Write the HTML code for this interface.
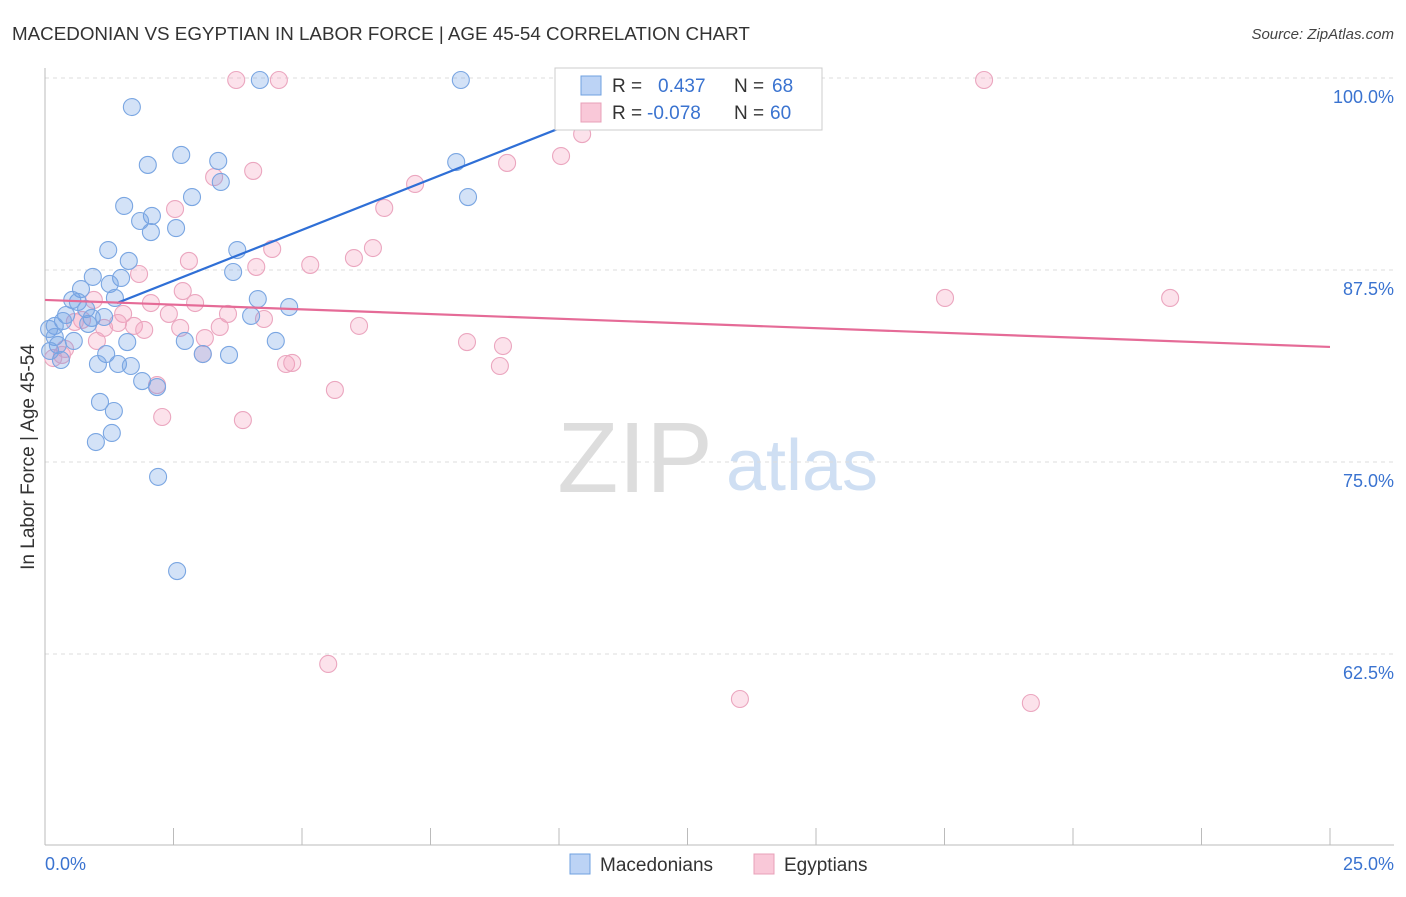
<!DOCTYPE html>
<html><head><meta charset="utf-8"><style>
body{margin:0;background:#fff;font-family:"Liberation Sans",sans-serif}
svg text{font-family:"Liberation Sans",sans-serif}
</style></head><body>
<svg id="chart" width="1406" height="892" viewBox="0 0 1406 892" xmlns="http://www.w3.org/2000/svg">
<text x="12" y="40" font-size="18.8" fill="#333">MACEDONIAN VS EGYPTIAN IN LABOR FORCE | AGE 45-54 CORRELATION CHART</text>
<text x="1394" y="39" font-size="15" fill="#444" font-style="italic" text-anchor="end">Source: ZipAtlas.com</text>
<g>
<text x="635" y="492" font-size="100" fill="#ddd" font-family="Liberation Serif" text-anchor="middle">ZIP</text>
<text x="802" y="490" font-size="72" fill="#cfdff3" text-anchor="middle">atlas</text>
</g>
<g id="grid"></g>
<g id="axes"></g>
<text transform="translate(34,457) rotate(-90)" font-size="19" fill="#333" text-anchor="middle">In Labor Force | Age 45-54</text>
<g id="pts"></g>
<g id="trends"></g>
<g>
<rect x="555" y="68" width="267" height="62" fill="#fff" stroke="#ccc"/>
<rect x="581" y="76" width="20" height="19" fill="#bcd3f5" stroke="#6fa0e0"/>
<rect x="581" y="103" width="20" height="19" fill="#f9c8d8" stroke="#e8a0b8"/>
<text x="612" y="92" font-size="19" fill="#333">R = <tspan x="658" fill="#3a73d0">0.437</tspan><tspan x="734">N = </tspan><tspan x="772" fill="#3a73d0">68</tspan></text>
<text x="612" y="119" font-size="19" fill="#333">R = <tspan x="647" fill="#3a73d0">-0.078</tspan><tspan x="734">N = </tspan><tspan x="770" fill="#3a73d0">60</tspan></text>
</g>
<g>
<rect x="570" y="854" width="20" height="20" fill="#bcd3f5" stroke="#6fa0e0"/>
<text x="600" y="871" font-size="19" fill="#333">Macedonians</text>
<rect x="754" y="854" width="20" height="20" fill="#f9c8d8" stroke="#e8a0b8"/>
<text x="784" y="871" font-size="19" fill="#333">Egyptians</text>
</g>
</svg>
<script>
const xTicks=[0,2.5,5,7.5,10,12.5,15,17.5,20,22.5,25];
const yTicks=[62.5,75,87.5,100];
const yTickLabels=["62.5%","75.0%","87.5%","100.0%"];
const blueX=[1.69,2.00,2.65,3.37,3.42,2.86,1.54,2.08,1.85,2.06,2.55,3.74,1.23,1.63,0.93,1.48,1.26,0.70,3.66,4.14,4.75,1.36,0.53,0.64,0.80,0.41,0.91,0.35,1.15,0.84,0.19,0.08,0.19,0.56,1.60,2.72,4.49,4.01,0.25,1.19,3.07,3.58,1.03,1.42,1.67,0.31,0.10,1.89,2.18,1.07,1.34,1.30,0.99,2.20,2.57,4.18,8.09,8.00,8.23];
const blueY=[98.11,94.34,94.99,94.60,93.23,92.25,91.67,91.02,90.69,89.97,90.23,88.80,88.80,88.09,87.05,86.98,86.59,86.26,87.37,85.61,85.09,85.68,85.55,85.42,84.96,84.57,84.38,84.18,84.44,83.99,83.86,83.66,83.14,82.88,82.81,82.88,82.88,84.51,82.62,82.03,82.03,81.97,81.38,81.38,81.25,81.64,82.23,80.27,79.88,78.91,78.32,76.89,76.30,74.03,67.90,99.87,99.87,94.53,92.25];
const pinkX=[3.72,4.55,18.27,10.45,10.04,8.99,4.05,3.29,7.20,6.60,2.53,2.80,4.11,6.38,4.42,5.16,6.01,1.83,2.68,2.92,0.95,2.06,1.52,2.41,3.56,4.26,0.72,1.73,1.15,1.42,1.93,2.63,3.40,6.11,3.11,1.01,8.21,8.91,0.39,0.33,3.07,4.69,4.81,8.85,2.18,5.64,2.28,3.85,17.51,21.89,5.51,13.52,19.18,0.58,0.16];
const pinkY=[99.87,99.87,99.87,96.35,94.92,94.47,93.95,93.55,93.10,91.54,91.47,88.09,87.70,88.93,88.87,87.83,88.28,87.24,86.13,85.35,85.55,85.35,84.64,84.64,84.64,84.31,84.25,83.86,83.73,84.05,83.60,83.73,83.79,83.86,83.07,82.88,82.81,82.55,82.36,81.97,82.03,81.38,81.45,81.25,80.01,79.69,77.93,77.73,85.68,85.68,61.85,59.57,59.31,84.12,81.77];
const blueTrend=[[1.4,85.35],[10.02,96.74]];
const pinkTrend=[[0,85.55],[25,82.49]];
const NS="http://www.w3.org/2000/svg";
const X=v=>45+v/25*1285;
const Y=v=>78+(100-v)/12.5*192;
function mk(tag,attrs,parent){const e=document.createElementNS(NS,tag);for(const k in attrs)e.setAttribute(k,attrs[k]);parent.appendChild(e);return e;}
const grid=document.getElementById('grid'),axes=document.getElementById('axes'),pts=document.getElementById('pts'),tr=document.getElementById('trends');
yTicks.forEach((t,i)=>{
 const l=mk('line',{x1:45,x2:1394,y1:Y(t),y2:Y(t),stroke:'#ddd','stroke-dasharray':'4,4'},grid);
 
 
 const tx=mk('text',{x:1394,y:Y(t)+25,'font-size':18,fill:'#3a73d0','text-anchor':'end'},axes);
 tx.textContent=yTickLabels[i];
 
 
});
mk('line',{x1:45,x2:45,y1:68,y2:845,stroke:'#bbb'},axes);
mk('line',{x1:45,x2:1394,y1:845,y2:845,stroke:'#bbb'},axes);
xTicks.forEach(t=>{
 const l=mk('line',{x1:X(t),x2:X(t),y1:828,y2:845,stroke:'#bbb'},axes);
 
 
});
const x0=mk('text',{x:45,y:870,'font-size':18,fill:'#3a73d0'},axes);x0.textContent='0.0%';


const x1=mk('text',{x:1394,y:870,'font-size':18,fill:'#3a73d0','text-anchor':'end'},axes);x1.textContent='25.0%';


pinkX.forEach((v,i)=>{
 const c=mk('circle',{cx:X(v),cy:Y(pinkY[i]),r:8.5,fill:'rgba(244,160,190,0.3)',stroke:'#eba6bf','stroke-width':1.1},pts);
 
 
});
blueX.forEach((v,i)=>{
 const c=mk('circle',{cx:X(v),cy:Y(blueY[i]),r:8.5,fill:'rgba(110,160,230,0.3)',stroke:'#7aa6e2','stroke-width':1.1},pts);
 
 
});
const bl=mk('line',{x1:X(blueTrend[0][0]),y1:Y(blueTrend[0][1]),x2:X(blueTrend[1][0]),y2:Y(blueTrend[1][1]),stroke:'#2f6fd6','stroke-width':2.2},tr);


const pl=mk('line',{x1:X(pinkTrend[0][0]),y1:Y(pinkTrend[0][1]),x2:X(pinkTrend[1][0]),y2:Y(pinkTrend[1][1]),stroke:'#e56b97','stroke-width':2.2},tr);


</script>
</body></html>
